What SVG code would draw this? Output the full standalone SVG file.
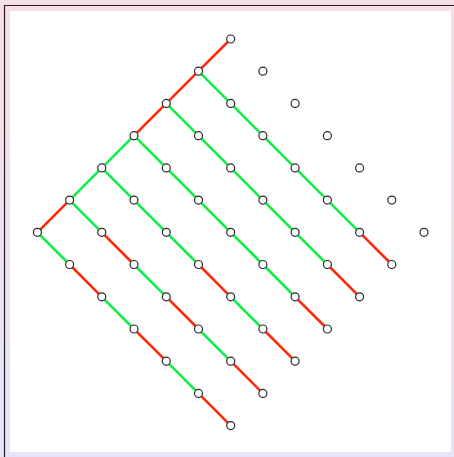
<svg xmlns="http://www.w3.org/2000/svg" width="454" height="457" viewBox="0 0 454 457">
<defs>
<linearGradient id="bg" x1="0" y1="0" x2="0" y2="1">
<stop offset="0" stop-color="#f6dee5"/>
<stop offset="1" stop-color="#e6e4f8"/>
</linearGradient>
<style>
.r{stroke:#ff2a0a;stroke-width:2.6;fill:none}
.g{stroke:#11ee44;stroke-width:2.6;fill:none}
.n circle{fill:#ffffff;stroke:#2a2a2a;stroke-width:1.2}
</style>
</defs>
<rect x="0" y="0" width="454" height="457" fill="url(#bg)"/>
<path d="M4.5,457 V5.5 H454" fill="none" stroke="#222" stroke-width="1.2"/>
<rect x="10" y="11" width="441" height="441" fill="#ffffff"/>
<g id="connectors">
<line class="r" x1="230.7" y1="39" x2="198.5" y2="71.2"/>
<line class="r" x1="198.5" y1="71.2" x2="166.3" y2="103.4"/>
<line class="r" x1="166.3" y1="103.4" x2="134" y2="135.7"/>
<line class="g" x1="134" y1="135.7" x2="101.8" y2="167.9"/>
<line class="g" x1="101.8" y1="167.9" x2="69.6" y2="200.1"/>
<line class="r" x1="69.6" y1="200.1" x2="37.4" y2="232.3"/>
<polyline class="g" points="198.5,71.2 230.7,103.4 262.9,135.7 295.1,167.9 327.4,200.1 359.6,232.3"/>
<line class="r" x1="359.6" y1="232.3" x2="391.8" y2="264.5"/>
<polyline class="g" points="166.3,103.4 198.5,135.7 230.7,167.9 262.9,200.1 295.1,232.3 327.4,264.5"/>
<line class="r" x1="327.4" y1="264.5" x2="359.6" y2="296.8"/>
<polyline class="g" points="134,135.7 166.3,167.9 198.5,200.1 230.7,232.3 262.9,264.5 295.1,296.8"/>
<line class="r" x1="295.1" y1="296.8" x2="327.4" y2="329"/>
<polyline class="g" points="101.8,167.9 134,200.1 166.3,232.3 198.5,264.5"/>
<line class="r" x1="198.5" y1="264.5" x2="230.7" y2="296.8"/>
<line class="g" x1="230.7" y1="296.8" x2="262.9" y2="329"/>
<line class="r" x1="262.9" y1="329" x2="295.1" y2="361.2"/>
<line class="g" x1="69.6" y1="200.1" x2="101.8" y2="232.3"/>
<line class="r" x1="101.8" y1="232.3" x2="134" y2="264.5"/>
<line class="g" x1="134" y1="264.5" x2="166.3" y2="296.8"/>
<line class="r" x1="166.3" y1="296.8" x2="198.5" y2="329"/>
<line class="g" x1="198.5" y1="329" x2="230.7" y2="361.2"/>
<line class="r" x1="230.7" y1="361.2" x2="262.9" y2="393.4"/>
<line class="g" x1="37.4" y1="232.3" x2="69.6" y2="264.5"/>
<line class="r" x1="69.6" y1="264.5" x2="101.8" y2="296.8"/>
<line class="g" x1="101.8" y1="296.8" x2="134" y2="329"/>
<line class="r" x1="134" y1="329" x2="166.3" y2="361.2"/>
<line class="g" x1="166.3" y1="361.2" x2="198.5" y2="393.4"/>
<line class="r" x1="198.5" y1="393.4" x2="230.7" y2="425.6"/>
</g>
<g class="n">
<g id="n0_0"><circle cx="230.7" cy="39" r="4"/></g>
<g id="n1_0"><circle cx="262.9" cy="71.2" r="4"/></g>
<g id="n2_0"><circle cx="295.1" cy="103.4" r="4"/></g>
<g id="n3_0"><circle cx="327.4" cy="135.7" r="4"/></g>
<g id="n4_0"><circle cx="359.6" cy="167.9" r="4"/></g>
<g id="n5_0"><circle cx="391.8" cy="200.1" r="4"/></g>
<g id="n6_0"><circle cx="424" cy="232.3" r="4"/></g>
<g id="n0_1"><circle cx="198.5" cy="71.2" r="4"/></g>
<g id="n1_1"><circle cx="230.7" cy="103.4" r="4"/></g>
<g id="n2_1"><circle cx="262.9" cy="135.7" r="4"/></g>
<g id="n3_1"><circle cx="295.1" cy="167.9" r="4"/></g>
<g id="n4_1"><circle cx="327.4" cy="200.1" r="4"/></g>
<g id="n5_1"><circle cx="359.6" cy="232.3" r="4"/></g>
<g id="n6_1"><circle cx="391.8" cy="264.5" r="4"/></g>
<g id="n0_2"><circle cx="166.3" cy="103.4" r="4"/></g>
<g id="n1_2"><circle cx="198.5" cy="135.7" r="4"/></g>
<g id="n2_2"><circle cx="230.7" cy="167.9" r="4"/></g>
<g id="n3_2"><circle cx="262.9" cy="200.1" r="4"/></g>
<g id="n4_2"><circle cx="295.1" cy="232.3" r="4"/></g>
<g id="n5_2"><circle cx="327.4" cy="264.5" r="4"/></g>
<g id="n6_2"><circle cx="359.6" cy="296.8" r="4"/></g>
<g id="n0_3"><circle cx="134" cy="135.7" r="4"/></g>
<g id="n1_3"><circle cx="166.3" cy="167.9" r="4"/></g>
<g id="n2_3"><circle cx="198.5" cy="200.1" r="4"/></g>
<g id="n3_3"><circle cx="230.7" cy="232.3" r="4"/></g>
<g id="n4_3"><circle cx="262.9" cy="264.5" r="4"/></g>
<g id="n5_3"><circle cx="295.1" cy="296.8" r="4"/></g>
<g id="n6_3"><circle cx="327.4" cy="329" r="4"/></g>
<g id="n0_4"><circle cx="101.8" cy="167.9" r="4"/></g>
<g id="n1_4"><circle cx="134" cy="200.1" r="4"/></g>
<g id="n2_4"><circle cx="166.3" cy="232.3" r="4"/></g>
<g id="n3_4"><circle cx="198.5" cy="264.5" r="4"/></g>
<g id="n4_4"><circle cx="230.7" cy="296.8" r="4"/></g>
<g id="n5_4"><circle cx="262.9" cy="329" r="4"/></g>
<g id="n6_4"><circle cx="295.1" cy="361.2" r="4"/></g>
<g id="n0_5"><circle cx="69.6" cy="200.1" r="4"/></g>
<g id="n1_5"><circle cx="101.8" cy="232.3" r="4"/></g>
<g id="n2_5"><circle cx="134" cy="264.5" r="4"/></g>
<g id="n3_5"><circle cx="166.3" cy="296.8" r="4"/></g>
<g id="n4_5"><circle cx="198.5" cy="329" r="4"/></g>
<g id="n5_5"><circle cx="230.7" cy="361.2" r="4"/></g>
<g id="n6_5"><circle cx="262.9" cy="393.4" r="4"/></g>
<g id="n0_6"><circle cx="37.4" cy="232.3" r="4"/></g>
<g id="n1_6"><circle cx="69.6" cy="264.5" r="4"/></g>
<g id="n2_6"><circle cx="101.8" cy="296.8" r="4"/></g>
<g id="n3_6"><circle cx="134" cy="329" r="4"/></g>
<g id="n4_6"><circle cx="166.3" cy="361.2" r="4"/></g>
<g id="n5_6"><circle cx="198.5" cy="393.4" r="4"/></g>
<g id="n6_6"><circle cx="230.7" cy="425.6" r="4"/></g>
</g>
</svg>
